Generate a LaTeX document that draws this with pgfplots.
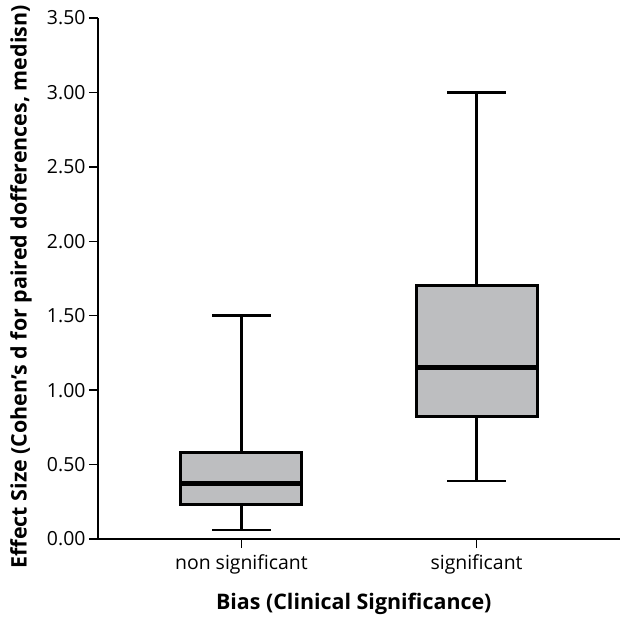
\documentclass[border=0pt]{standalone}
\usepackage{pgfplots}
\pgfplotsset{compat=1.18}
\usepgfplotslibrary{statistics}
\usepackage{fontspec}
\setmainfont{Open Sans}
\definecolor{boxgray}{RGB}{189,190,192}

\begin{document}
\begin{tikzpicture}
\begin{axis}[
    scale only axis,
    width=522bp, height=521bp,
    axis lines*=left,
    xmin=0.39, xmax=2.61,
    ymin=0, ymax=3.5,
    ytick={0,0.5,1,1.5,2,2.5,3,3.5},
    yticklabel style={/pgf/number format/.cd,fixed,fixed zerofill,precision=2},
    xtick={1,2},
    xticklabels={non significant,significant},
    xticklabel style={yshift=-3bp},
    tick align=outside,
    major tick length=9bp,
    tick style={line width=1.3bp,black},
    axis line style={line width=1.3bp},
    /pgf/number format/assume math mode=true,
    ticklabel style={font=\fontsize{19.5}{23}\selectfont},
    xlabel={Bias (Clinical Significance)},
    ylabel={Effect Size (Cohen's d for paired dofferences, medisn)},
    label style={font=\bfseries\fontsize{21.5}{25}\selectfont},
    xlabel style={at={(axis description cs:0.49,-0.125)},anchor=center},
    ylabel style={at={(axis description cs:-0.1475,0.484)},anchor=center},
    boxplot/draw direction=y,
    boxplot/box extend=0.515,
    boxplot/whisker extend=0.25,
    boxplot/every median/.style={line width=5bp},
    boxplot/every whisker/.style={line width=2.6bp},
    boxplot/every box/.style={line width=3bp},
]
\addplot+[solid, draw=black, fill=boxgray, mark=none,
    boxplot prepared={lower whisker=0.06, lower quartile=0.235,
        median=0.375, upper quartile=0.58, upper whisker=1.50}]
    coordinates {};
\addplot+[solid, draw=black, fill=boxgray, mark=none,
    boxplot prepared={lower whisker=0.39, lower quartile=0.82,
        median=1.15, upper quartile=1.70, upper whisker=3.00}]
    coordinates {};
\end{axis}
% fix the page to the reference frame around the axis
\path[use as bounding box] (current axis.south west) ++(-98bp,-80bp) rectangle ++(621bp,619bp);
\end{tikzpicture}
\end{document}
